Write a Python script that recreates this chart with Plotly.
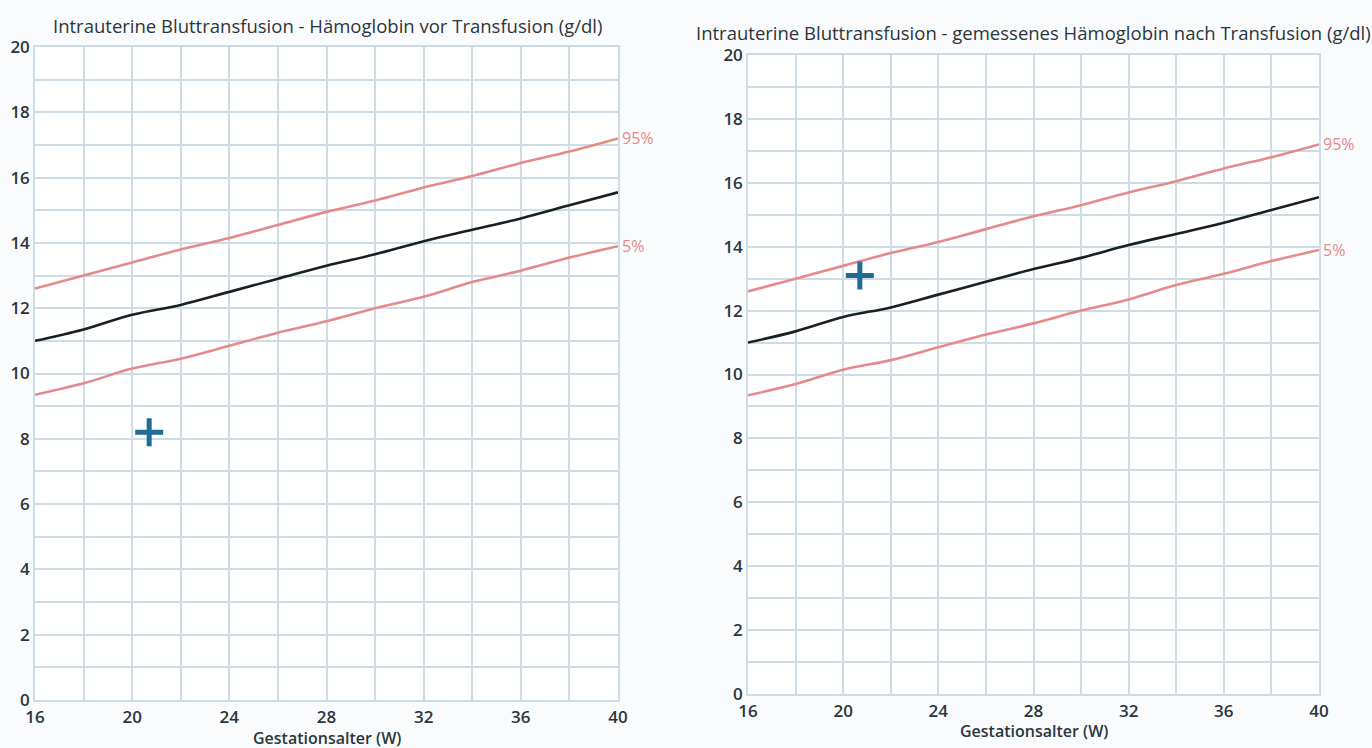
import plotly.graph_objects as go

# ---- data ----
weeks = [16, 18, 20, 22, 24, 26, 28, 30, 32, 34, 36, 38, 40]
p95 = [12.6, 13.0, 13.4, 13.8, 14.15, 14.55, 14.95, 15.3, 15.7, 16.05, 16.45, 16.8, 17.2]
p50 = [11.0, 11.35, 11.8, 12.1, 12.5, 12.9, 13.3, 13.65, 14.05, 14.4, 14.75, 15.15, 15.55]
p05 = [9.35, 9.7, 10.15, 10.45, 10.85, 11.25, 11.6, 12.0, 12.35, 12.8, 13.15, 13.55, 13.9]

patient_week = [20.7]
hb_before = [8.2]
hb_after = [13.1]

titles = ["Intrauterine Bluttransfusion - Hämoglobin vor Transfusion (g/dl)",
          "Intrauterine Bluttransfusion - gemessenes Hämoglobin nach Transfusion (g/dl)"]
x_title = "Gestationsalter (W)"
pct_labels = ["95%", "5%"]

# ---- style ----
W, H = 1372, 748
FONT = "Open Sans"
RED = "#e48a8a"
BLACK = "#182020"
GRID = "#cddce5"
CROSS = "#1f6c96"
TXT = "#2a363c"

fig = go.Figure()

panels = [
    dict(xa="x", ya="y", xd=(35, 618), yd=(47, 700), pt=hb_before, tx=327, ty=25, xty=738),
    dict(xa="x2", ya="y2", xd=(748, 1319), yd=(55, 694), pt=hb_after, tx=1033, ty=33, xty=731),
]

for i, p in enumerate(panels):
    for ys, col in [(p95, RED), (p05, RED), (p50, BLACK)]:
        fig.add_trace(go.Scatter(x=weeks, y=ys, mode="lines", xaxis=p["xa"], yaxis=p["ya"],
                                 line=dict(color=col, width=2.6, shape="spline"),
                                 showlegend=False, hoverinfo="skip"))
    fig.add_trace(go.Scatter(x=patient_week, y=p["pt"], mode="markers", xaxis=p["xa"], yaxis=p["ya"],
                             marker=dict(symbol="cross-thin", size=20, color=CROSS,
                                         line=dict(width=5, color=CROSS)),
                             showlegend=False))
    sfx = "" if i == 0 else str(i + 1)
    axis_common = dict(showgrid=True, gridcolor=GRID, gridwidth=1.5, zeroline=False,
                       showline=True, linecolor=GRID, linewidth=1.5, mirror=True,
                       automargin=False,
                       ticks="", tickfont=dict(family=FONT, size=17, color=TXT, weight=600))
    fig.update_layout(**{
        "xaxis" + sfx: dict(axis_common, domain=[p["xd"][0] / W, p["xd"][1] / W], range=[16, 40],
                            tickmode="linear", tick0=16, dtick=4, ticklabelstandoff=1,
                            minor=dict(dtick=2, showgrid=True, gridcolor=GRID, gridwidth=1.5),
                            anchor=p["ya"]),
        "yaxis" + sfx: dict(axis_common, domain=[1 - p["yd"][1] / H, 1 - p["yd"][0] / H], range=[0, 20],
                            tickmode="linear", tick0=0, dtick=2, ticklabelstandoff=0,
                            minor=dict(dtick=1, showgrid=True, gridcolor=GRID, gridwidth=1.5),
                            anchor=p["xa"]),
    })
    # chart title
    fig.add_annotation(text=titles[i], x=p["tx"] / W, y=1 - p["ty"] / H, xref="paper", yref="paper",
                       showarrow=False, xanchor="center", yanchor="middle",
                       font=dict(family=FONT, size=18.5, color=TXT))
    # x-axis title
    fig.add_annotation(text=x_title, x=(p["xd"][0] + p["xd"][1]) / 2 / W, y=1 - p["xty"] / H,
                       xref="paper", yref="paper", showarrow=False, xanchor="center", yanchor="middle",
                       font=dict(family=FONT, size=16, color=TXT, weight=600))
    # percentile labels
    for lab, ys in zip(pct_labels, [p95, p05]):
        fig.add_annotation(text=lab, x=weeks[-1], y=ys[-1], xref=p["xa"], yref=p["ya"],
                           showarrow=False, xanchor="left", yanchor="middle", xshift=2,
                           font=dict(family=FONT, size=16, color=RED))

fig.update_layout(width=W, height=H, margin=dict(l=0, r=0, t=0, b=0),
                  paper_bgcolor="#fafbfd", plot_bgcolor="#ffffff", showlegend=False)

fig.write_html("out.html")
